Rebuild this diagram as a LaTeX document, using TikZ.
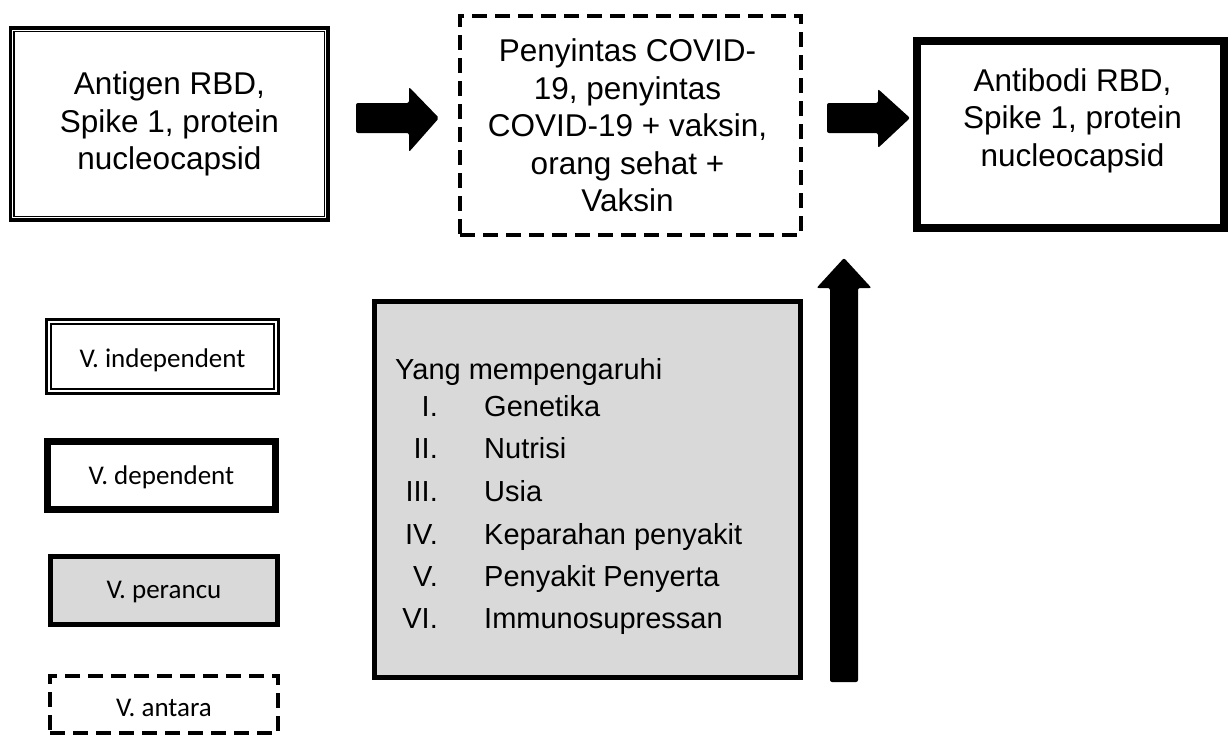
\documentclass[tikz,border=0pt]{standalone}
\usepackage{fontspec}
\setmainfont{Liberation Sans}
\newfontfamily\legendfont{Carlito}
\definecolor{confgray}{HTML}{D9D9D9}
\tikzset{
  bigtext/.style={font=\fontsize{31.5}{37.5}\selectfont, align=center, inner sep=0pt},
  legtext/.style={font=\legendfont\fontsize{27}{32}\selectfont, inner sep=0pt},
  listtext/.style={font=\fontsize{29}{35}\selectfont, inner sep=0pt},
  framebox/.style={draw=black, rectangle, inner sep=0pt},
  indepbox/.style={framebox, line width=3.5pt},
  depbox/.style={framebox, line width=8pt},
  medbox/.style={framebox, line width=4pt, dash pattern=on 15pt off 8pt},
  confbox/.style={framebox, line width=5pt, fill=confgray},
  blockarrow/.style={fill=black, rounded corners=2pt},
}
\begin{document}
\begin{tikzpicture}[x=1pt,y=-1pt]
\useasboundingbox (0,0) rectangle (1230,736);
% top boxes
\node[indepbox, minimum width=317.6pt, minimum height=192pt] (b1) at (169.4,124) {};
\draw[line width=1.4pt] ([xshift=5.2pt,yshift=-5.2pt]b1.north west) rectangle ([xshift=-5.2pt,yshift=5.2pt]b1.south east);
\node[bigtext] (b1t) at (b1.center) {Antigen RBD,\\Spike 1, protein\\nucleocapsid};

\node[medbox, minimum width=341pt, minimum height=219pt] (b2) at (630.5,125.5) {};
\node[bigtext] (b2t) at ([xshift=-3pt]b2.center) {Penyintas COVID-\\19, penyintas\\COVID-19 + vaksin,\\orang sehat +\\Vaksin};

\node[depbox, minimum width=307pt, minimum height=187pt] (b3) at (1070.5,134.5) {};
\node[bigtext] (b3t) at ([xshift=2pt,yshift=14pt]b3.center) {Antibodi RBD,\\Spike 1, protein\\nucleocapsid};

% arrows
\coordinate (a1s) at (356,118);
\fill[blockarrow, shift={(a1s)}] (0,-15) -- (53,-15) -- (53,-31) -- (83,0) -- (53,34) -- (53,15) -- (0,15) -- cycle;
\coordinate (a2s) at (827,118);
\fill[blockarrow, shift={(a2s)}] (0,-15) -- (51,-15) -- (51,-29) -- (83,0) -- (51,30) -- (51,15) -- (0,15) -- cycle;

% confounder box
\node[confbox, minimum width=426pt, minimum height=376pt] (cb) at (587.5,489.5) {};
\node[listtext, anchor=base west] (ct) at (395,379) {Yang mempengaruhi};
\node[listtext, anchor=base east] (n1) at (438,416) {I.};
\node[listtext, anchor=base west] (t1) at (484,416) {Genetika};
\node[listtext, anchor=base east] (n2) at (438,458.5) {II.};
\node[listtext, anchor=base west] (t2) at (484,458.5) {Nutrisi};
\node[listtext, anchor=base east] (n3) at (438,501) {III.};
\node[listtext, anchor=base west] (t3) at (484,501) {Usia};
\node[listtext, anchor=base east] (n4) at (438,544) {IV.};
\node[listtext, anchor=base west] (t4) at (484,544) {Keparahan penyakit};
\node[listtext, anchor=base east] (n5) at (438,586) {V.};
\node[listtext, anchor=base west] (t5) at (484,586) {Penyakit Penyerta};
\node[listtext, anchor=base east] (n6) at (438,628) {VI.};
\node[listtext, anchor=base west] (t6) at (484,628) {Immunosupressan};

% up arrow
\coordinate (a3s) at (844,682);
\fill[blockarrow, shift={(a3s)}] (-14,0) -- (-14,-394) -- (-27.5,-394) -- (0,-424) -- (27.5,-394) -- (14,-394) -- (14,0) -- cycle;

% legend
\node[framebox, line width=3pt, minimum width=232pt, minimum height=74pt] (l1) at (162.5,356.5) {};
\draw[line width=1.5pt] ([xshift=6pt,yshift=-6pt]l1.north west) rectangle ([xshift=-6pt,yshift=6pt]l1.south east);
\node[legtext] (l1t) at (162.5,360) {V. independent};

\node[framebox, line width=7pt, minimum width=228pt, minimum height=68pt] (l2) at (161.5,475.5) {};
\node[legtext] (l2t) at (161.5,477) {V. dependent};

\node[confbox, minimum width=227pt, minimum height=68pt] (l3) at (164,590.5) {};
\node[legtext] (l3t) at (164,592) {V. perancu};

\node[medbox, minimum width=228pt, minimum height=57pt] (l4) at (164,704.5) {};
\node[legtext] (l4t) at (164,708) {V. antara};
\end{tikzpicture}
\end{document}
